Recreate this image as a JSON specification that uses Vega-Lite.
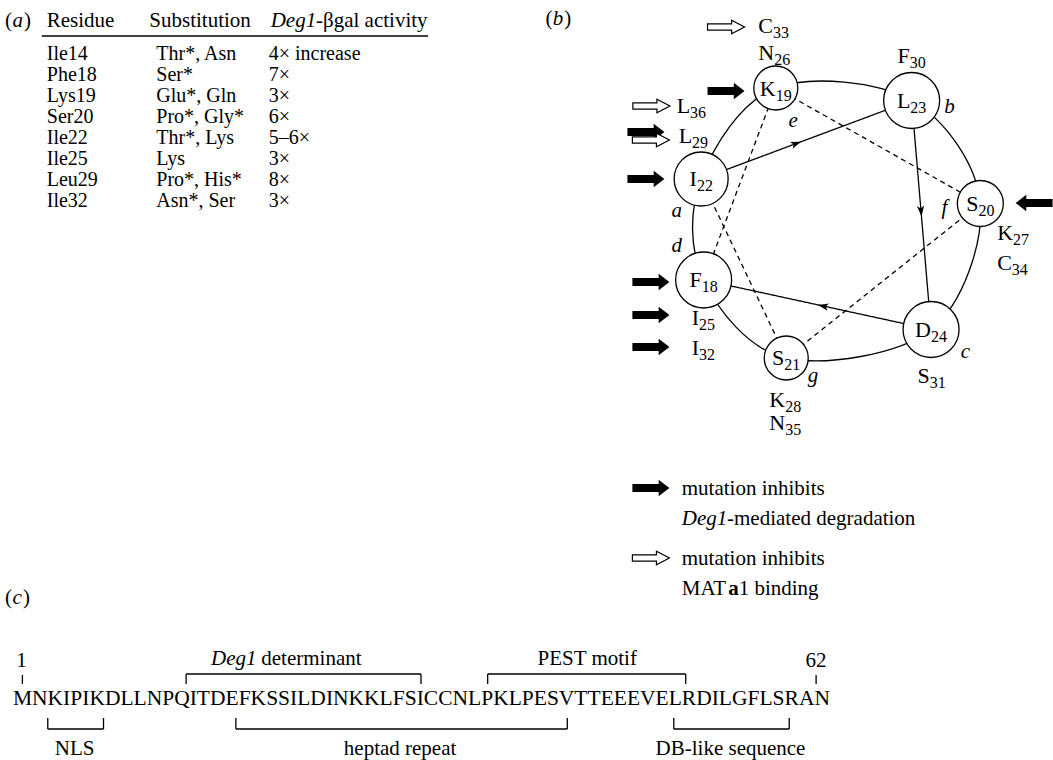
{
  "$schema": "https://vega.github.io/schema/vega-lite/v6.json",
  "width": 1053,
  "height": 760,
  "autosize": {"type": "fit", "contains": "padding"},
  "padding": 0,
  "background": "white",
  "config": {"view": {"stroke": null}, "text": {"font": "Liberation Serif", "baseline": "alphabetic", "color": "black"}},
  "datasets": {
    "nodes": [
      {"n": "I22", "i": 0, "x": 704.5, "y": 179, "r": 27},
      {"n": "K19", "i": 1, "x": 779.5, "y": 88, "r": 22},
      {"n": "L23", "i": 2, "x": 916, "y": 100.5, "r": 28},
      {"n": "S20", "i": 3, "x": 985, "y": 203.5, "r": 23},
      {"n": "D24", "i": 4, "x": 935.5, "y": 329.5, "r": 28},
      {"n": "S21", "i": 5, "x": 790, "y": 358, "r": 22},
      {"n": "F18", "i": 6, "x": 707, "y": 280, "r": 28}
    ],
    "links": [
      {"kind": "solid", "x": 704.5, "y": 179, "x2": 916, "y2": 100.5},
      {"kind": "solid", "x": 916, "y": 100.5, "x2": 935.5, "y2": 329.5},
      {"kind": "solid", "x": 935.5, "y": 329.5, "x2": 707, "y2": 280},
      {"kind": "dashed", "x": 707, "y": 280, "x2": 779.5, "y2": 88},
      {"kind": "dashed", "x": 779.5, "y": 88, "x2": 985, "y2": 203.5},
      {"kind": "dashed", "x": 985, "y": 203.5, "x2": 790, "y2": 358},
      {"kind": "dashed", "x": 790, "y": 358, "x2": 704.5, "y2": 179}
    ],
    "heads": [
      {"x": 800, "y": 143.6, "rot": 339.6},
      {"x": 925.4, "y": 211, "rot": 85},
      {"x": 827, "y": 306, "rot": 192}
    ],
    "blockArrows": [
      {"x": 729.5, "y": 91, "rot": 0},
      {"x": 649, "y": 132, "rot": 0},
      {"x": 649, "y": 179, "rot": 0},
      {"x": 654, "y": 282, "rot": 0},
      {"x": 654, "y": 315, "rot": 0},
      {"x": 654, "y": 347, "rot": 0},
      {"x": 1039, "y": 203, "rot": 180},
      {"x": 654, "y": 488, "rot": 0}
    ],
    "openArrows": [
      {"x": 729.5, "y": 27},
      {"x": 654.5, "y": 106},
      {"x": 654, "y": 140},
      {"x": 654, "y": 558}
    ],
    "rules": [
      {"x": 42, "y": 36, "x2": 430, "y2": 36},
      {"x": 22.5, "y": 675, "x2": 22.5, "y2": 684},
      {"x": 820, "y": 675, "x2": 820, "y2": 684},
      {"x": 187, "y": 674, "x2": 423, "y2": 674},
      {"x": 187, "y": 674, "x2": 187, "y2": 684},
      {"x": 423, "y": 674, "x2": 423, "y2": 684},
      {"x": 490, "y": 674, "x2": 689, "y2": 674},
      {"x": 490, "y": 674, "x2": 490, "y2": 684},
      {"x": 689, "y": 674, "x2": 689, "y2": 684},
      {"x": 48, "y": 729, "x2": 104, "y2": 729},
      {"x": 48, "y": 718, "x2": 48, "y2": 729},
      {"x": 104, "y": 718, "x2": 104, "y2": 729},
      {"x": 237, "y": 729, "x2": 570, "y2": 729},
      {"x": 237, "y": 718, "x2": 237, "y2": 729},
      {"x": 570, "y": 718, "x2": 570, "y2": 729},
      {"x": 677, "y": 729, "x2": 793, "y2": 729},
      {"x": 677, "y": 718, "x2": 677, "y2": 729},
      {"x": 793, "y": 718, "x2": 793, "y2": 729}
    ],
    "header": [
      {"t": "(", "x": 5, "y": 27},
      {"t": ")", "x": 24, "y": 27},
      {"t": "Residue", "x": 47, "y": 27},
      {"t": "Substitution", "x": 150, "y": 27},
      {"t": "-βgal activity", "x": 317.5, "y": 27}
    ],
    "headerItalic": [
      {"t": "a", "x": 12.5, "y": 27},
      {"t": "Deg1", "x": 272, "y": 27}
    ],
    "table": [
      {"t": "Ile14", "x": 47, "y": 59.5},
      {"t": "Phe18", "x": 47, "y": 80.5},
      {"t": "Lys19", "x": 47, "y": 101.5},
      {"t": "Ser20", "x": 47, "y": 122.5},
      {"t": "Ile22", "x": 47, "y": 143.5},
      {"t": "Ile25", "x": 47, "y": 164.5},
      {"t": "Leu29", "x": 47, "y": 185.5},
      {"t": "Ile32", "x": 47, "y": 206.5},
      {"t": "Thr*, Asn", "x": 157, "y": 59.5},
      {"t": "Ser*", "x": 157, "y": 80.5},
      {"t": "Glu*, Gln", "x": 157, "y": 101.5},
      {"t": "Pro*, Gly*", "x": 157, "y": 122.5},
      {"t": "Thr*, Lys", "x": 157, "y": 143.5},
      {"t": "Lys", "x": 157, "y": 164.5},
      {"t": "Pro*, His*", "x": 157, "y": 185.5},
      {"t": "Asn*, Ser", "x": 157, "y": 206.5},
      {"t": "4× increase", "x": 270, "y": 59.5},
      {"t": "7×", "x": 270, "y": 80.5},
      {"t": "3×", "x": 270, "y": 101.5},
      {"t": "6×", "x": 270, "y": 122.5},
      {"t": "5–6×", "x": 270, "y": 143.5},
      {"t": "3×", "x": 270, "y": 164.5},
      {"t": "8×", "x": 270, "y": 185.5},
      {"t": "3×", "x": 270, "y": 206.5}
    ],
    "plain": [
      {"t": "(", "x": 548, "y": 25},
      {"t": ")", "x": 567, "y": 25},
      {"t": "(", "x": 5, "y": 604},
      {"t": ")", "x": 23, "y": 604},
      {"t": "mutation inhibits", "x": 685, "y": 495},
      {"t": "-mediated degradation", "x": 730.5, "y": 525},
      {"t": "mutation inhibits", "x": 685, "y": 565},
      {"t": "MAT", "x": 685, "y": 595},
      {"t": "1 binding", "x": 742.2, "y": 595},
      {"t": "determinant", "x": 262.5, "y": 665}
    ],
    "sequence": [
      {"t": "MNKIPIKDLLNPQITDEFKSSILDINKKLFSICCNLPKLPESVTTEEEVELRDILGFLSRAN", "x": 13, "y": 705}
    ],
    "italic": [
      {"t": "b", "x": 555.5, "y": 25},
      {"t": "c", "x": 12.5, "y": 604},
      {"t": "Deg1", "x": 685, "y": 525},
      {"t": "Deg1", "x": 212, "y": 665}
    ],
    "bold": [
      {"t": "a", "x": 731.7, "y": 595}
    ],
    "centered": [
      {"t": "1", "x": 21.5, "y": 667},
      {"t": "62", "x": 820, "y": 667},
      {"t": "PEST motif", "x": 590, "y": 665},
      {"t": "NLS", "x": 75, "y": 755},
      {"t": "heptad repeat", "x": 402, "y": 755},
      {"t": "DB-like sequence", "x": 734, "y": 755}
    ],
    "positions": [
      {"t": "a", "x": 680, "y": 217},
      {"t": "b", "x": 954, "y": 113},
      {"t": "c", "x": 970, "y": 358},
      {"t": "d", "x": 680, "y": 252},
      {"t": "e", "x": 797, "y": 127},
      {"t": "f", "x": 949, "y": 214},
      {"t": "g", "x": 817, "y": 382}
    ],
    "residues": [
      {"L": "C", "s": "33", "x": 776.7, "y": 33},
      {"L": "N", "s": "26", "x": 777.9, "y": 60},
      {"L": "K", "s": "19", "x": 779.4, "y": 96},
      {"L": "L", "s": "36", "x": 693.4, "y": 113},
      {"L": "L", "s": "29", "x": 695.4, "y": 143},
      {"L": "I", "s": "22", "x": 700.2, "y": 186},
      {"L": "F", "s": "30", "x": 914.2, "y": 63},
      {"L": "L", "s": "23", "x": 914.7, "y": 108},
      {"L": "S", "s": "20", "x": 983.1, "y": 211},
      {"L": "K", "s": "27", "x": 1017.9, "y": 240},
      {"L": "C", "s": "34", "x": 1016.7, "y": 270},
      {"L": "F", "s": "18", "x": 705.1, "y": 287},
      {"L": "I", "s": "25", "x": 702.3, "y": 325},
      {"L": "I", "s": "32", "x": 702.3, "y": 355},
      {"L": "D", "s": "24", "x": 935.4, "y": 337},
      {"L": "S", "s": "31", "x": 934.2, "y": 383},
      {"L": "S", "s": "21", "x": 788.1, "y": 365},
      {"L": "K", "s": "28", "x": 788.9, "y": 407},
      {"L": "N", "s": "35", "x": 788.9, "y": 430}
    ]
  },
  "layer": [
    {
      "data": {"name": "nodes"},
      "mark": {"type": "line", "interpolate": "cardinal-closed", "stroke": "black", "strokeWidth": 1.3},
      "encoding": {
        "x": {"field": "x", "type": "quantitative", "scale": {"domain": [0, 1053], "nice": false}, "axis": null},
        "y": {"field": "y", "type": "quantitative", "scale": {"domain": [0, 760], "nice": false, "reverse": true}, "axis": null},
        "order": {"field": "i", "type": "quantitative"}
      }
    },
    {
      "data": {"name": "links"},
      "mark": {"type": "rule", "stroke": "black", "strokeWidth": 1.3},
      "encoding": {
        "x": {"field": "x", "type": "quantitative"},
        "y": {"field": "y", "type": "quantitative"},
        "x2": {"field": "x2"},
        "y2": {"field": "y2"},
        "strokeDash": {"field": "kind", "type": "nominal", "scale": {"domain": ["solid", "dashed"], "range": [[1, 0], [5, 4]]}, "legend": null}
      }
    },
    {
      "data": {"name": "nodes"},
      "mark": {"type": "point", "shape": "circle", "filled": true, "fill": "white", "stroke": "black", "strokeWidth": 1.3, "opacity": 1},
      "encoding": {
        "x": {"field": "x", "type": "quantitative"},
        "y": {"field": "y", "type": "quantitative"},
        "size": {"field": "r", "type": "quantitative", "scale": {"type": "pow", "exponent": 2, "domain": [0, 30], "range": [0, 3600]}, "legend": null}
      }
    },
    {
      "data": {"name": "heads"},
      "mark": {"type": "point", "shape": "M 1 0 L -1 -0.7 L -0.5 0 L -1 0.7 Z", "filled": true, "color": "black", "size": 110, "opacity": 1},
      "encoding": {
        "x": {"field": "x", "type": "quantitative"},
        "y": {"field": "y", "type": "quantitative"},
        "angle": {"field": "rot", "type": "quantitative", "scale": null}
      }
    },
    {
      "data": {"name": "blockArrows"},
      "mark": {"type": "point", "shape": "M -1 -0.22 L 0.42 -0.22 L 0.42 -0.44 L 1 0 L 0.42 0.44 L 0.42 0.22 L -1 0.22 Z", "filled": true, "color": "black", "size": 1369, "opacity": 1},
      "encoding": {
        "x": {"field": "x", "type": "quantitative"},
        "y": {"field": "y", "type": "quantitative"},
        "angle": {"field": "rot", "type": "quantitative", "scale": null}
      }
    },
    {
      "data": {"name": "openArrows"},
      "mark": {"type": "point", "shape": "M -1 -0.17 L 0.3 -0.17 L 0.3 -0.36 L 1 0 L 0.3 0.36 L 0.3 0.17 L -1 0.17 Z", "filled": true, "fill": "white", "stroke": "black", "strokeWidth": 1.2, "size": 1369, "opacity": 1},
      "encoding": {
        "x": {"field": "x", "type": "quantitative"},
        "y": {"field": "y", "type": "quantitative"}
      }
    },
    {
      "data": {"name": "rules"},
      "mark": {"type": "rule", "stroke": "black", "strokeWidth": 1.3},
      "encoding": {
        "x": {"field": "x", "type": "quantitative"},
        "y": {"field": "y", "type": "quantitative"},
        "x2": {"field": "x2"},
        "y2": {"field": "y2"}
      }
    },
    {
      "data": {"name": "header"},
      "mark": {"type": "text", "align": "left", "fontSize": 21},
      "encoding": {
        "x": {"field": "x", "type": "quantitative"},
        "y": {"field": "y", "type": "quantitative"},
        "text": {"field": "t"}
      }
    },
    {
      "data": {"name": "headerItalic"},
      "mark": {"type": "text", "align": "left", "fontSize": 21, "fontStyle": "italic"},
      "encoding": {
        "x": {"field": "x", "type": "quantitative"},
        "y": {"field": "y", "type": "quantitative"},
        "text": {"field": "t"}
      }
    },
    {
      "data": {"name": "table"},
      "mark": {"type": "text", "align": "left", "fontSize": 20},
      "encoding": {
        "x": {"field": "x", "type": "quantitative"},
        "y": {"field": "y", "type": "quantitative"},
        "text": {"field": "t"}
      }
    },
    {
      "data": {"name": "plain"},
      "mark": {"type": "text", "align": "left", "fontSize": 21},
      "encoding": {
        "x": {"field": "x", "type": "quantitative"},
        "y": {"field": "y", "type": "quantitative"},
        "text": {"field": "t"}
      }
    },
    {
      "data": {"name": "sequence"},
      "mark": {"type": "text", "align": "left", "fontSize": 21.5},
      "encoding": {
        "x": {"field": "x", "type": "quantitative"},
        "y": {"field": "y", "type": "quantitative"},
        "text": {"field": "t"}
      }
    },
    {
      "data": {"name": "italic"},
      "mark": {"type": "text", "align": "left", "fontSize": 21, "fontStyle": "italic"},
      "encoding": {
        "x": {"field": "x", "type": "quantitative"},
        "y": {"field": "y", "type": "quantitative"},
        "text": {"field": "t"}
      }
    },
    {
      "data": {"name": "bold"},
      "mark": {"type": "text", "align": "left", "fontSize": 21, "fontWeight": "bold"},
      "encoding": {
        "x": {"field": "x", "type": "quantitative"},
        "y": {"field": "y", "type": "quantitative"},
        "text": {"field": "t"}
      }
    },
    {
      "data": {"name": "centered"},
      "mark": {"type": "text", "align": "center", "fontSize": 21},
      "encoding": {
        "x": {"field": "x", "type": "quantitative"},
        "y": {"field": "y", "type": "quantitative"},
        "text": {"field": "t"}
      }
    },
    {
      "data": {"name": "positions"},
      "mark": {"type": "text", "align": "center", "fontSize": 21, "fontStyle": "italic"},
      "encoding": {
        "x": {"field": "x", "type": "quantitative"},
        "y": {"field": "y", "type": "quantitative"},
        "text": {"field": "t"}
      }
    },
    {
      "data": {"name": "residues"},
      "mark": {"type": "text", "align": "right", "fontSize": 22},
      "encoding": {
        "x": {"field": "x", "type": "quantitative"},
        "y": {"field": "y", "type": "quantitative"},
        "text": {"field": "L"}
      }
    },
    {
      "data": {"name": "residues"},
      "mark": {"type": "text", "align": "left", "fontSize": 16, "dy": 4.5},
      "encoding": {
        "x": {"field": "x", "type": "quantitative"},
        "y": {"field": "y", "type": "quantitative"},
        "text": {"field": "s"}
      }
    }
  ]
}
